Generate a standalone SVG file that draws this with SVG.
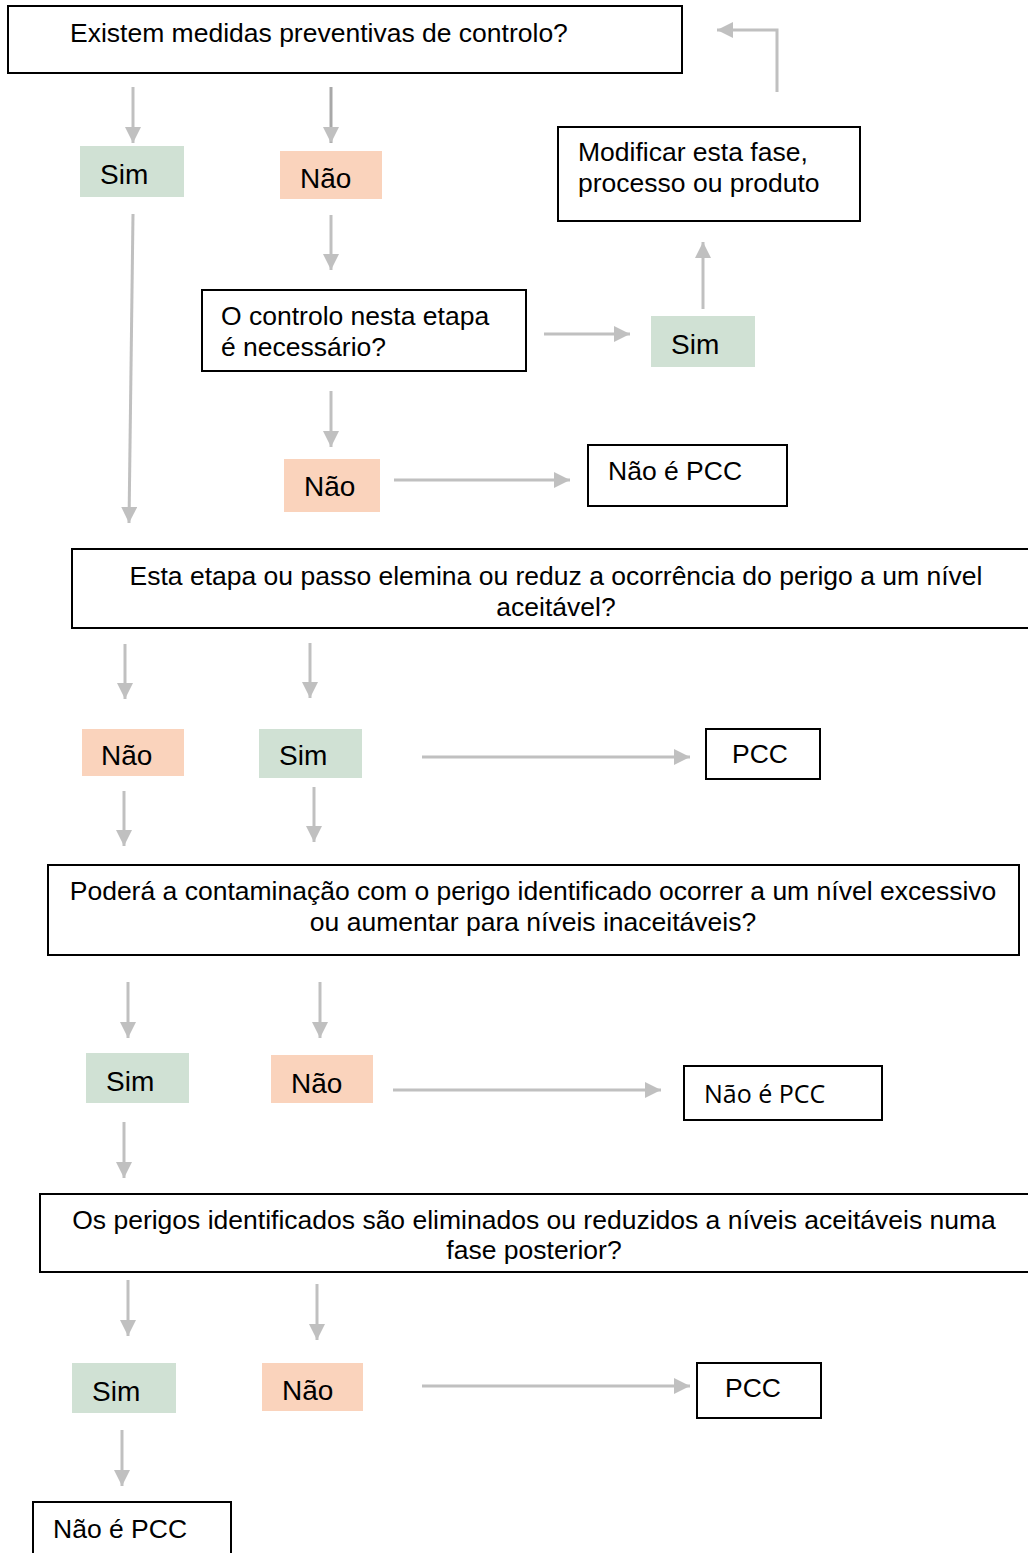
<svg xmlns="http://www.w3.org/2000/svg" width="1028" height="1553" viewBox="0 0 1028 1553">
<style>
.box{fill:#fff;stroke:#000;stroke-width:2}
.sim{fill:#d0e1d4}
.nao{fill:#fad3bc}
.t{font-family:"Liberation Sans",Arial,sans-serif;font-size:26.5px;fill:#000}
.l{font-size:28px}
.c{text-anchor:middle}
.cal{font-family:"Open Sans","Liberation Sans",sans-serif;font-size:25px;fill:#000}
.arr{stroke:#c0c0c0;stroke-width:3;fill:none;marker-end:url(#ah)}
</style>
<defs>
<marker id="ah" markerUnits="userSpaceOnUse" markerWidth="16" markerHeight="16" refX="16" refY="8" orient="auto">
<path d="M0,0 L16,8 L0,16 z" fill="#c0c0c0"/>
</marker>
</defs>
<rect width="1028" height="1553" fill="#fff"/>
<g id="connectors">
<path class="arr" d="M777,92 V30 H717"/>
<path class="arr" d="M133,87 V143"/>
<path class="arr" d="M331,87 V143" style="stroke:#a8a8a8"/>
<path class="arr" d="M331,215 V270"/>
<path class="arr" d="M544,334 H630"/>
<path class="arr" d="M703,309 V242"/>
<path class="arr" d="M133,214 L129,523"/>
<path class="arr" d="M331,391 V447"/>
<path class="arr" d="M394,480 H570"/>
<path class="arr" d="M125,644 V699"/>
<path class="arr" d="M310,643 V698"/>
<path class="arr" d="M422,757 H690"/>
<path class="arr" d="M124,791 V846"/>
<path class="arr" d="M314,787 V842"/>
<path class="arr" d="M128,982 V1038"/>
<path class="arr" d="M320,982 V1038"/>
<path class="arr" d="M393,1090 H661"/>
<path class="arr" d="M124,1122 V1178"/>
<path class="arr" d="M128,1280 V1336"/>
<path class="arr" d="M317,1284 V1340"/>
<path class="arr" d="M422,1386 H690"/>
<path class="arr" d="M122,1430 V1486"/>
</g>
<g id="q1"><rect class="box" x="8" y="6" width="674" height="67"/><text class="t" x="70" y="42">Existem medidas preventivas de controlo?</text></g>
<g id="sim1"><rect class="sim" x="80" y="146" width="104" height="51"/><text class="t l" x="100" y="184">Sim</text></g>
<g id="nao1"><rect class="nao" x="280" y="151" width="102" height="48"/><text class="t l" x="300" y="188">Não</text></g>
<g id="q2"><rect class="box" x="202" y="290" width="324" height="81"/><text class="t" x="221" y="325">O controlo nesta etapa</text><text class="t" x="221" y="356">é necessário?</text></g>
<g id="sim2"><rect class="sim" x="651" y="316" width="104" height="51"/><text class="t l" x="671" y="354">Sim</text></g>
<g id="mod"><rect class="box" x="558" y="127" width="302" height="94"/><text class="t" x="578" y="161">Modificar esta fase,</text><text class="t" x="578" y="192">processo ou produto</text></g>
<g id="nao2"><rect class="nao" x="284" y="459" width="96" height="53"/><text class="t l" x="304" y="496">Não</text></g>
<g id="npcc1"><rect class="box" x="588" y="445" width="199" height="61"/><text class="t" x="608" y="480">Não é PCC</text></g>
<g id="q3"><rect class="box" x="72" y="549" width="970" height="79"/><text class="t c" x="556" y="585">Esta etapa ou passo elemina ou reduz a ocorrência do perigo a um nível</text><text class="t c" x="556" y="616">aceitável?</text></g>
<g id="nao3"><rect class="nao" x="82" y="729" width="102" height="47"/><text class="t l" x="101" y="765">Não</text></g>
<g id="sim3"><rect class="sim" x="259" y="729" width="103" height="49"/><text class="t l" x="279" y="765">Sim</text></g>
<g id="pcc1"><rect class="box" x="706" y="729" width="114" height="50"/><text class="t" x="732" y="763">PCC</text></g>
<g id="q4"><rect class="box" x="48" y="865" width="971" height="90"/><text class="t c" x="533" y="900">Poderá a contaminação com o perigo identificado ocorrer a um nível excessivo</text><text class="t c" x="533" y="931">ou aumentar para níveis inaceitáveis?</text></g>
<g id="sim4"><rect class="sim" x="86" y="1053" width="103" height="50"/><text class="t l" x="106" y="1091">Sim</text></g>
<g id="nao4"><rect class="nao" x="271" y="1055" width="102" height="48"/><text class="t l" x="291" y="1093">Não</text></g>
<g id="npcc2"><rect class="box" x="684" y="1066" width="198" height="54"/><text class="cal" x="704" y="1103">Não é PCC</text></g>
<g id="q5"><rect class="box" x="40" y="1194" width="1000" height="78"/><text class="t c" x="534" y="1229">Os perigos identificados são eliminados ou reduzidos a níveis aceitáveis numa</text><text class="t c" x="534" y="1259">fase posterior?</text></g>
<g id="sim5"><rect class="sim" x="72" y="1363" width="104" height="50"/><text class="t l" x="92" y="1401">Sim</text></g>
<g id="nao5"><rect class="nao" x="262" y="1363" width="101" height="48"/><text class="t l" x="282" y="1400">Não</text></g>
<g id="pcc2"><rect class="box" x="697" y="1363" width="124" height="55"/><text class="t" x="725" y="1397">PCC</text></g>
<g id="npcc3"><rect class="box" x="33" y="1502" width="198" height="70"/><text class="t" x="53" y="1538">Não é PCC</text></g>
</svg>
